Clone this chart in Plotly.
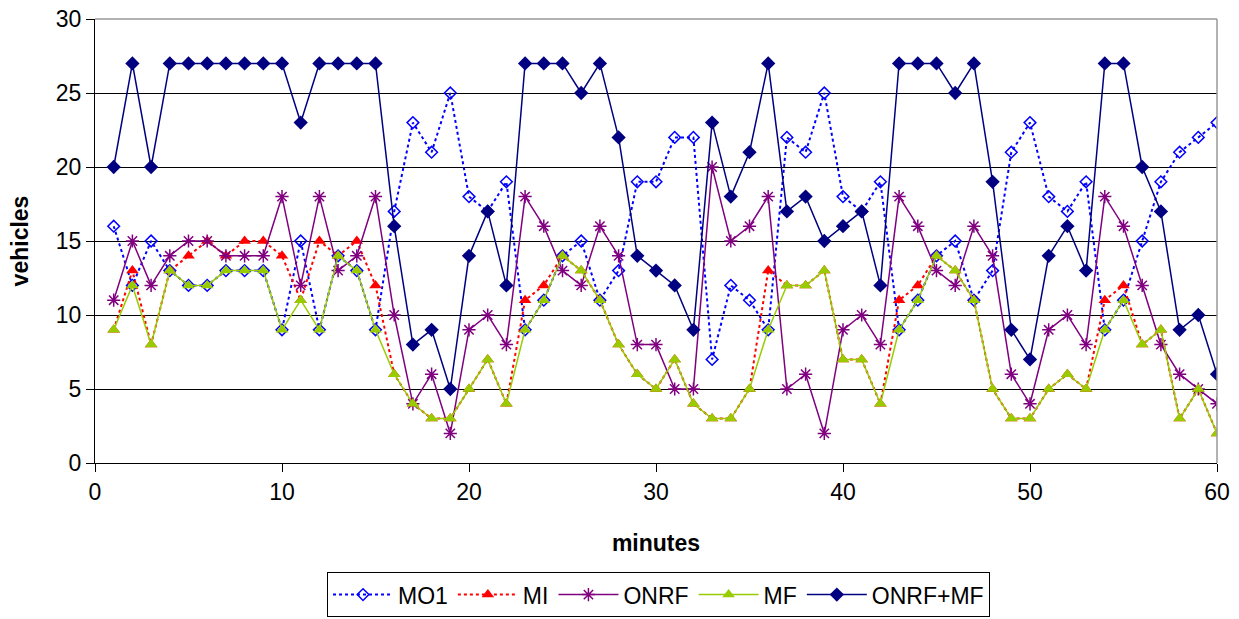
import plotly.graph_objects as go

minutes = list(range(1, 61))

mo1 = [16, 12, 15, 13, 12, 12, 13, 13, 13, 9,
       15, 9, 14, 13, 9, 17, 23, 21, 25, 18,
       17, 19, 9, 11, 14, 15, 11, 13, 19, 19,
       22, 22, 7, 12, 11, 9, 22, 21, 25, 18,
       17, 19, 9, 11, 14, 15, 11, 13, 21, 23,
       18, 17, 19, 9, 11, 15, 19, 21, 22, 23]

mi = [9, 13, 8, 13, 14, 15, 14, 15, 15, 14,
      11, 15, 14, 15, 12, 6, 4, 3, 3, 5,
      7, 4, 11, 12, 14, 13, 11, 8, 6, 5,
      7, 4, 3, 3, 5, 13, 12, 12, 13, 7,
      7, 4, 11, 12, 14, 13, 11, 5, 3, 3,
      5, 6, 5, 11, 12, 8, 9, 3, 5, 2]

onrf = [11, 15, 12, 14, 15, 15, 14, 14, 14, 18,
        12, 18, 13, 14, 18, 10, 4, 6, 2, 9,
        10, 8, 18, 16, 13, 12, 16, 14, 8, 8,
        5, 5, 20, 15, 16, 18, 5, 6, 2, 9,
        10, 8, 18, 16, 13, 12, 16, 14, 6, 4,
        9, 10, 8, 18, 16, 12, 8, 6, 5, 4]

mf = [9, 12, 8, 13, 12, 12, 13, 13, 13, 9,
      11, 9, 14, 13, 9, 6, 4, 3, 3, 5,
      7, 4, 9, 11, 14, 13, 11, 8, 6, 5,
      7, 4, 3, 3, 5, 9, 12, 12, 13, 7,
      7, 4, 9, 11, 14, 13, 11, 5, 3, 3,
      5, 6, 5, 9, 11, 8, 9, 3, 5, 2]

onrf_mf = [20, 27, 20, 27, 27, 27, 27, 27, 27, 27,
           23, 27, 27, 27, 27, 16, 8, 9, 5, 14,
           17, 12, 27, 27, 27, 25, 27, 22, 14, 13,
           12, 9, 23, 18, 21, 27, 17, 18, 15, 16,
           17, 12, 27, 27, 27, 25, 27, 19, 9, 7,
           14, 16, 13, 27, 27, 20, 17, 9, 10, 6]

y_ticks = [0, 5, 10, 15, 20, 25, 30]
x_ticks = [0, 10, 20, 30, 40, 50, 60]

fig = go.Figure()

fig.add_trace(go.Scatter(
    x=minutes, y=mo1, name="MO1", mode="lines+markers",
    line=dict(color="#0000FF", width=2, dash="dot"),
    marker=dict(symbol="diamond-open", size=9, color="#0000FF", line=dict(width=1.5, color="#0000FF")),
))
fig.add_trace(go.Scatter(
    x=minutes, y=mi, name="MI", mode="lines+markers",
    line=dict(color="#FF0000", width=2, dash="dot"),
    marker=dict(symbol="triangle-up", size=11, color="#FF0000"),
))
fig.add_trace(go.Scatter(
    x=minutes, y=onrf, name="ONRF", mode="lines+markers",
    line=dict(color="#800080", width=1.5),
    marker=dict(symbol="asterisk-open", size=11, color="#800080", line=dict(width=1.5, color="#800080")),
))
fig.add_trace(go.Scatter(
    x=minutes, y=mf, name="MF", mode="lines+markers",
    line=dict(color="#99CC00", width=1.5),
    marker=dict(symbol="triangle-up", size=11, color="#99CC00"),
))
fig.add_trace(go.Scatter(
    x=minutes, y=onrf_mf, name="ONRF+MF", mode="lines+markers",
    line=dict(color="#000080", width=1.5),
    marker=dict(symbol="diamond", size=11, color="#000080"),
))

font_family = "Liberation Sans, Arial, sans-serif"

fig.update_layout(
    width=1239, height=619,
    margin=dict(l=95, r=22, t=19, b=156),
    paper_bgcolor="white", plot_bgcolor="white",
    font=dict(family=font_family, size=23, color="black"),
    showlegend=True,
    legend=dict(
        orientation="h", xref="container", yref="container",
        x=0.5315, xanchor="center", y=0.003, yanchor="bottom",
        bordercolor="black", borderwidth=1, font=dict(size=23),
        itemwidth=60, tracegroupgap=0,
    ),
    xaxis=dict(
        range=[0, 60], tickvals=x_ticks, ticks="outside", ticklen=8,
        tickcolor="black", showline=True, linecolor="black", linewidth=1,
        showgrid=False, zeroline=False, mirror=False, automargin=False,
        title=dict(text="<b>minutes</b>", font=dict(size=23), standoff=31),
        tickfont=dict(size=23),
    ),
    yaxis=dict(
        range=[0, 30], tickvals=y_ticks, ticks="outside", ticklen=8,
        tickcolor="black", showline=True, linecolor="black", linewidth=1,
        showgrid=True, gridcolor="black", gridwidth=1, zeroline=False,
        automargin=False,
        title=dict(text="<b>vehicles</b>", font=dict(size=23), standoff=20),
        tickfont=dict(size=23),
    ),
)

# gray plot-area frame on top and right
fig.add_shape(type="line", xref="paper", yref="paper", x0=0, x1=1, y0=1, y1=1,
              line=dict(color="#999999", width=1.5))
fig.add_shape(type="line", xref="paper", yref="paper", x0=1, x1=1, y0=0, y1=1,
              line=dict(color="#999999", width=1.5))

fig.write_html(
    "out.html",
    config={"displayModeBar": False},
    post_script="document.body.style.margin='0';document.body.style.overflow='hidden';",
)
